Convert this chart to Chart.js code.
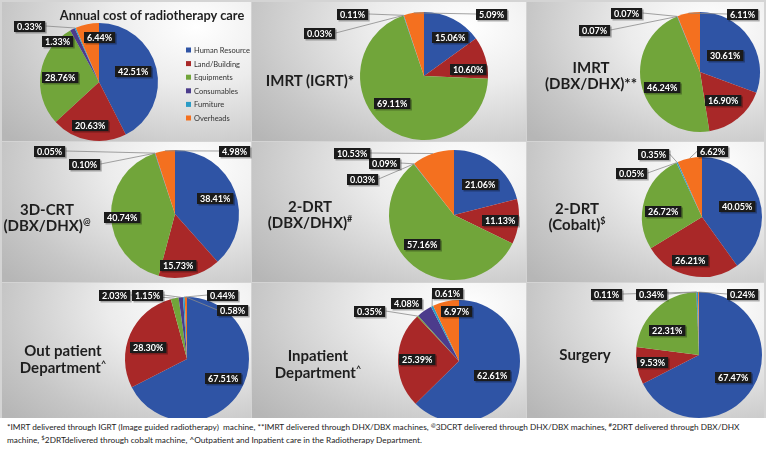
<!DOCTYPE html>
<html lang="en"><head>
<title>Annual cost of radiotherapy care</title>
<style>
* { margin: 0; padding: 0 }
body { width: 766px; height: 451px; background: #fff; font-family: Lato, "Open Sans", sans-serif; position: relative; overflow: hidden; }
#Figure { position: absolute; left: 0; top: 0; width: 766px; height: 418px; overflow: hidden; background: #d4d4d4; }
.panel { position: absolute; background: radial-gradient(ellipse 100% 120% at 78% 18%, #ffffff 0%, #ececec 35%, #c6c6c6 78%, #b6b6b6 100%); }
canvas { position: absolute; left: 0; top: 0; }
.title { position: absolute; font-weight: bold; color: #1e1e1e; font-size: 15px; line-height: 16px; text-align: center; white-space: nowrap; transform: translateX(-50%); z-index: 20; }
.title sup { font-size: 9px; vertical-align: 6px; line-height: 0; }
#MainTitle { font-size: 12.8px; }
#Footnote { position: absolute; left: 7px; top: 421px; font-size: 8.25px; line-height: 13px; color: #222; white-space: nowrap; }
#Footnote sup { font-size: 6px; vertical-align: 3px; line-height: 0; }
</style>
<script src="https://cdn.jsdelivr.net/npm/chart.js"></script>
<script>

const categories = ["Human Resource", "Land/Building", "Equipments", "Consumables", "Furniture", "Overheads"];
const colors = ["#2f54a5", "#a92828", "#71a53a", "#4c3c8c", "#2b9cc6", "#f4701f"];

// percentages, in the order of categories
const annualCost = [42.51, 20.63, 28.76, 1.33, 0.33, 6.44];
const imrtIgrt   = [15.06, 10.60, 69.11, 0.03, 0.11, 5.09];
const imrtDbx    = [30.61, 16.90, 46.24, 0.07, 0.07, 6.11];
const crt3dDbx   = [38.41, 15.73, 40.74, 0.10, 0.05, 4.98];
const drt2Dbx    = [21.06, 11.13, 57.16, 0.03, 0.09, 10.53];
const drt2Cobalt = [40.05, 26.21, 26.72, 0.05, 0.35, 6.62];
const outPatient = [67.51, 28.30, 2.03, 1.15, 0.44, 0.58];
const inPatient  = [62.61, 25.39, 0.35, 4.08, 0.61, 6.97];
const surgery    = [67.47, 9.53, 22.31, 0.11, 0.34, 0.24];

const pieSets = [annualCost, imrtIgrt, imrtDbx, crt3dDbx, drt2Dbx, drt2Cobalt, outPatient, inPatient, surgery];

// layout: pie centre x, centre y, radius (page px)
const pieGeom = [
    [99, 82, 59], [424, 76, 64], [700, 72, 60],
    [175, 214, 64], [454, 215, 65], [702, 217, 60],
    [187, 359, 62], [459, 361, 61], [699, 355, 63],
];

// label box offsets from the pie centre, third value = draw a leader line
const labelSpots = [
    [[34,-11],[-9,43],[-39,-5],[-41,-41],[-69,-56,1],[1,-45]],
    [[26,-39],[44,-7],[-32,27],[-104,-43,1],[-71,-62,1],[68,-62,1]],
    [[25,-17],[23,28],[-38,15],[-105,-42,1],[-73,-59,1],[43,-58,1]],
    [[40,-16],[3,51],[-53,3],[-90,-50,1],[-125,-63,1],[60,-63,1]],
    [[26,-31],[46,5],[-32,29],[-91,-36,1],[-69,-52,1],[-102,-62,1]],
    [[35,-11],[-12,43],[-39,-6],[-70,-44,1],[-48,-63,1],[11,-66,1]],
    [[36,19],[-39,-12],[-72,-64,1],[-39,-64,1],[36,-64,1],[46,-49,1]],
    [[33,14],[-42,-2],[-89,-50,1],[-52,-58],[-11,-68,1],[-2,-50]],
    [[34,22],[-46,7],[-32,-25],[-92,-61,1],[-47,-61,1],[44,-61,1]],
];

const panelRects = [
    [2, 2, 249, 139], [252, 2, 274, 139], [527, 2, 237, 139],
    [2, 142, 249, 140], [252, 142, 274, 140], [527, 142, 237, 140],
    [2, 283, 249, 135], [252, 283, 274, 135], [527, 283, 237, 135],
];

const CANVAS_W = 766;
const CANVAS_H = 451;

function get(id) {
    return document.getElementById(id);
}

const boxLabels = {
    id: 'boxLabels',
    afterDatasetsDraw(chart, args, opts) {
        const ctx = chart.ctx;
        const arcs = chart.getDatasetMeta(0).data;
        const values = chart.data.datasets[0].data;
        ctx.save();
        ctx.font = 'bold 9px Lato';
        const boxes = arcs.map((arc, i) => {
            const spot = opts.spots[i];
            const text = values[i].toFixed(2) + '%';
            return {
                text: text, arc: arc, line: spot[2],
                x: arc.x + spot[0], y: arc.y + spot[1],
                w: ctx.measureText(text).width + 6, h: 11,
            };
        });

        // leader lines go under the boxes
        ctx.strokeStyle = '#8a8a8a';
        ctx.lineWidth = 0.8;
        boxes.forEach(b => {
            if (!b.line) return;
            const mid = (b.arc.startAngle + b.arc.endAngle) / 2;
            const px = b.arc.x + Math.cos(mid) * b.arc.outerRadius;
            const py = b.arc.y + Math.sin(mid) * b.arc.outerRadius;
            let sx = b.x, sy = b.y;
            if (px > b.x + b.w / 2) sx = b.x + b.w / 2;
            else if (px < b.x - b.w / 2) sx = b.x - b.w / 2;
            else sy = py > b.y ? b.y + b.h / 2 : b.y - b.h / 2;
            ctx.beginPath();
            ctx.moveTo(sx, sy);
            ctx.lineTo(px, py);
            ctx.stroke();
        });

        ctx.textAlign = 'center';
        ctx.textBaseline = 'middle';
        boxes.forEach(b => {
            const left = Math.round(b.x - b.w / 2), top = Math.round(b.y - b.h / 2);
            ctx.fillStyle = 'rgba(0,0,0,0.3)';
            ctx.fillRect(left + 1.5, top + 1.5, b.w, b.h);
            ctx.fillStyle = '#1b1b1b';
            ctx.fillRect(left, top, b.w, b.h);
            ctx.fillStyle = '#ffffff';
            ctx.fillText(b.text, left + b.w / 2, top + b.h / 2 + 0.5);
        });

        if (opts.legend) {
            const lg = opts.legend;
            ctx.font = '7.5px Lato';
            ctx.textAlign = 'left';
            categories.forEach((name, i) => {
                const y = lg.y + i * lg.step;
                ctx.fillStyle = colors[i];
                ctx.fillRect(lg.x, y - 2.5, 5, 5);
                ctx.fillStyle = '#333';
                ctx.fillText(name, lg.x + 8, y + 0.5);
            });
        }
        ctx.restore();
    }
};

function bodyOnLoad() {
    const fig = get("Figure");
    panelRects.forEach(p => {
        const d = document.createElement("div");
        d.className = "panel";
        d.style.left = p[0] + "px";
        d.style.top = p[1] + "px";
        d.style.width = p[2] + "px";
        d.style.height = p[3] + "px";
        fig.appendChild(d);
    });

    pieSets.forEach((values, i) => {
        const [cx, cy, r] = pieGeom[i];
        const canvas = document.createElement("canvas");
        canvas.width = CANVAS_W;
        canvas.height = CANVAS_H;
        canvas.style.zIndex = 10 + i;
        fig.appendChild(canvas);
        new Chart(canvas, {
            type: 'pie',
            data: {
                labels: categories,
                datasets: [{ data: values, backgroundColor: colors, borderWidth: 0 }],
            },
            options: {
                responsive: false,
                animation: false,
                events: [],
                layout: {
                    padding: { left: cx - r, top: cy - r, right: CANVAS_W - cx - r, bottom: CANVAS_H - cy - r },
                },
                plugins: {
                    legend: { display: false },
                    tooltip: { enabled: false },
                    boxLabels: {
                        spots: labelSpots[i],
                        legend: i == 0 ? { x: 186, y: 50, step: 13.6 } : null,
                    },
                },
            },
            plugins: [boxLabels],
        });
    });
}

</script>
</head><body onload="bodyOnLoad()">

<div id="Figure">
  <div class="title" id="MainTitle" style="left:152px; top:7px">Annual cost of radiotherapy care</div>
  <div class="title" style="left:310px; top:72px">IMRT (IGRT)*</div>
  <div class="title" style="left:591px; top:59px">IMRT<br>(DBX/DHX)**</div>
  <div class="title" style="left:47px; top:201px">3D-CRT<br>(DBX/DHX)<sup>@</sup></div>
  <div class="title" style="left:310px; top:198px">2-DRT<br>(DBX/DHX)<sup>#</sup></div>
  <div class="title" style="left:577px; top:200px">2-DRT<br>(Cobalt)<sup>$</sup></div>
  <div class="title" style="left:63px; top:342px; line-height:17px">Out patient<br>Department<sup>^</sup></div>
  <div class="title" style="left:318px; top:347px; line-height:17px">Inpatient<br>Department<sup>^</sup></div>
  <div class="title" style="left:585px; top:346px">Surgery</div>
</div>

<div id="Footnote">*IMRT delivered through IGRT (Image guided radiotherapy)&nbsp; machine, **IMRT delivered through DHX/DBX machines, <sup>@</sup>3DCRT delivered through DHX/DBX machines, <sup>#</sup>2DRT delivered through DBX/DHX<br>machine, <sup>$</sup>2DRTdelivered through cobalt machine, ^Outpatient and Inpatient care in the Radiotherapy Department.</div>

</body></html>
